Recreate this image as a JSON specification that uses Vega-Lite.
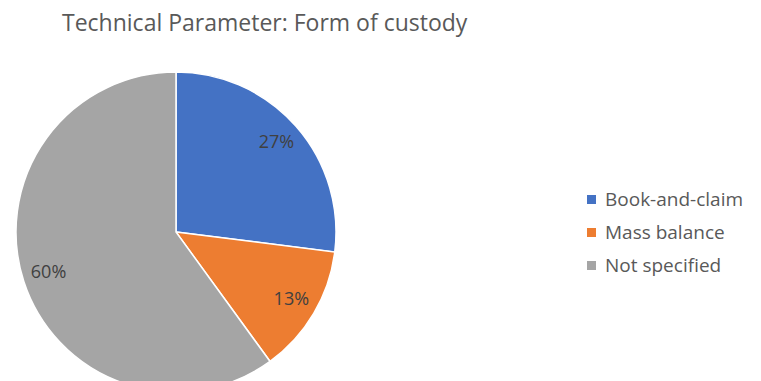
{
  "$schema": "https://vega.github.io/schema/vega-lite/v6.json",
  "autosize": "none",
  "padding": {"left": 0, "top": 50, "right": 409, "bottom": 0},
  "width": 352,
  "height": 364,
  "background": "white",
  "title": {
    "text": "Technical Parameter: Form of custody",
    "anchor": "start",
    "frame": "group",
    "dx": 62,
    "offset": 14,
    "limit": 600,
    "font": "Open Sans",
    "fontSize": 23,
    "fontWeight": "normal",
    "color": "#595959"
  },
  "data": {
    "values": [
      {"category": "Book-and-claim", "value": 27, "label": "27%"},
      {"category": "Mass balance", "value": 13, "label": "13%"},
      {"category": "Not specified", "value": 60, "label": "60%"}
    ]
  },
  "encoding": {
    "theta": {"field": "value", "type": "quantitative", "stack": true},
    "color": {
      "field": "category",
      "type": "nominal",
      "sort": ["Book-and-claim", "Mass balance", "Not specified"],
      "scale": {
        "domain": ["Book-and-claim", "Mass balance", "Not specified"],
        "range": ["#4472C4", "#ED7D31", "#A5A5A5"]
      },
      "legend": {
        "title": null,
        "orient": "none",
        "legendX": 582,
        "legendY": 140,
        "padding": 0,
        "symbolType": "square",
        "symbolSize": 81,
        "symbolStrokeWidth": 0,
        "labelFont": "Open Sans",
        "labelFontSize": 19,
        "labelColor": "#595959",
        "labelOffset": 4,
        "labelLimit": 300,
        "rowPadding": 13
      }
    }
  },
  "layer": [
    {
      "mark": {"type": "arc", "outerRadius": 160, "stroke": "white", "strokeWidth": 1.5},
      "encoding": {
        "order": {"field": "category", "type": "nominal", "sort": ["Book-and-claim", "Mass balance", "Not specified"]}
      }
    },
    {
      "mark": {"type": "text", "radius": 134, "font": "Open Sans", "fontSize": 18, "color": "#404040"},
      "encoding": {
        "text": {"field": "label"},
        "color": {"value": "#404040"},
        "order": {"field": "category", "type": "nominal", "sort": ["Book-and-claim", "Mass balance", "Not specified"]}
      }
    }
  ]
}
